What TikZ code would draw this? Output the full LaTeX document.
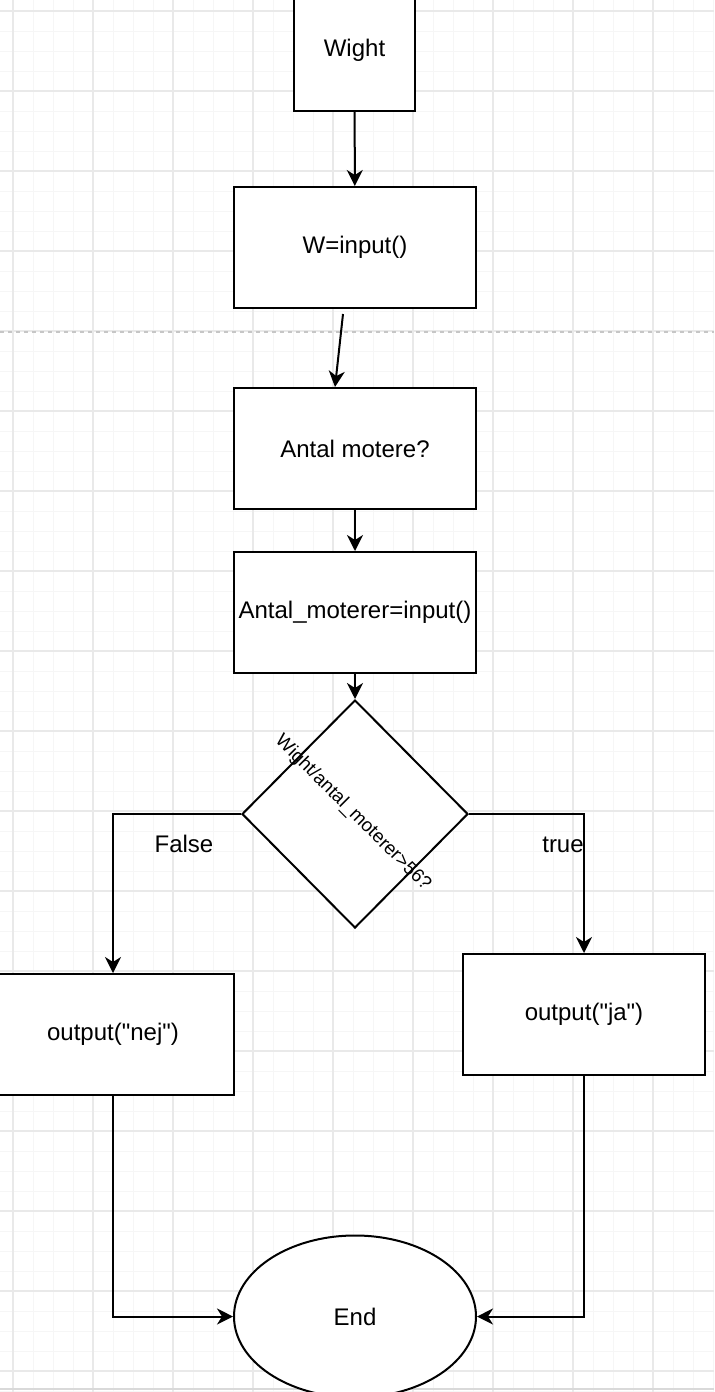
\documentclass[tikz,border=0pt]{standalone}
\usepackage{fontspec}
\setmainfont{Liberation Sans}
\usetikzlibrary{shapes.geometric, arrows.meta, positioning}
\tikzstyle{arrow} = [line width=1pt,-{Stealth[length=8pt,width=8pt,inset=2.5pt]}]
\tikzstyle{process} = [rectangle, minimum width=121pt, minimum height=60.5pt, inner sep=0pt, text centered, draw=black, line width=1pt, fill=white, font=\fontsize{12}{14}\selectfont]
\tikzstyle{decision} = [diamond, minimum width=113pt, minimum height=114pt, inner sep=0pt, draw=black, line width=1pt, fill=white]
\tikzstyle{terminal} = [ellipse, minimum width=121pt, minimum height=81pt, inner sep=0pt, draw=black, line width=1pt, fill=white, font=\fontsize{12}{14}\selectfont]
\tikzstyle{label} = [font=\fontsize{12}{14}\selectfont]
\tikzstyle{minorgrid} = [line width=0.5pt, gray!7]
\tikzstyle{majorgrid} = [line width=0.7pt, gray!17]

\begin{document}
\begin{tikzpicture}[x=0.5pt, y=-0.5pt]

\useasboundingbox (0,0) rectangle (714,1392);
\clip (0,0) rectangle (714,1392);

% background grid
\foreach \x in {13,33,...,713} \draw [minorgrid] (\x,0) -- (\x,1392);
\foreach \y in {11,31,...,1391} \draw [minorgrid] (0,\y) -- (714,\y);
\foreach \x in {13,93,...,693} \draw [majorgrid] (\x,0) -- (\x,1392);
\foreach \y in {11,91,...,1371} \draw [majorgrid] (0,\y) -- (714,\y);
\draw [gray!45, line width=0.6pt, dash pattern=on 2pt off 2pt] (0,332) -- (714,332);
\draw [gray!30, line width=0.6pt] (0,1389) -- (714,1389);

\node (wight) [process, minimum width=60.5pt] at (354.5,50.5) {Wight};
\node (winput) [process] at (355,247.5) {W=input()};
\node (motere) [process, below=39pt of winput] {Antal motere?};
\node (antalin) [process, below=20.5pt of motere] {Antal\_moterer=input()};
\node (check) [decision] at (355,814) {};
\node (checktxt) [rotate=-45, font=\fontsize{9.4}{11}\selectfont] at (353,813) {Wight/antal\_moterer>56?};
\node (nej) [process] at (113,1034.5) {output(\textquotedbl nej\textquotedbl)};
\node (ja) [process] at (584,1014.5) {output(\textquotedbl ja\textquotedbl)};
\node (slut) [terminal] at (355,1316.5) {End};

\node (falsk) [label] at (184,844) {False};
\node (sand) [label] at (563,845) {true};

\draw [arrow] (wight) -- (winput);
\draw [arrow] ([xshift=-6pt, yshift=-2.5pt]winput.south) -- ([xshift=-10pt]motere.north);
\draw [arrow] (motere) -- (antalin);
\draw [arrow] (antalin) -- (check);
\draw [arrow] (check.west) -| (nej);
\draw [arrow] (check.east) -| (ja);
\draw [arrow] (nej) |- (slut);
\draw [arrow] (ja) |- (slut);

\end{tikzpicture}
\end{document}
